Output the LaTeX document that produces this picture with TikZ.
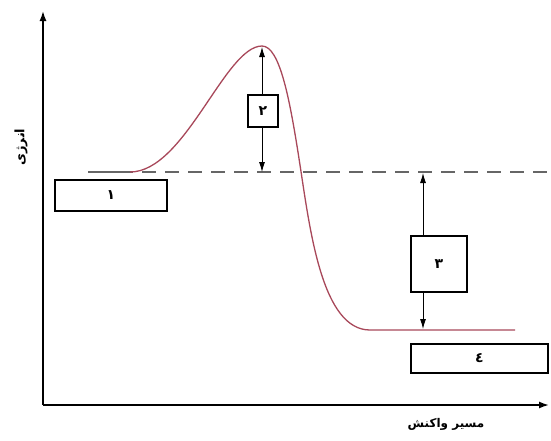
\documentclass[tikz,border=0pt]{standalone}
\usepackage{fontspec}
\newfontfamily\arabicfont[Script=Arabic]{DejaVu Sans}
\TeXXeTstate=1
\usetikzlibrary{arrows.meta}
\definecolor{curvered}{HTML}{A8485A}
\begin{document}
\begin{tikzpicture}[x=1pt,y=-1pt,
  axis/.style={line width=1.6pt,-{Latex[length=10pt,width=7pt]}},
  lbox/.style={draw,line width=1.4pt,fill=white,inner sep=0pt,font=\arabicfont\bfseries\fontsize{14}{14}\selectfont},
  darrow/.style={line width=0.9pt,-{Latex[length=10pt,width=6pt]}},
  dashline/.style={draw=black!60,line width=1.2pt,dash pattern=on 14pt off 9pt}]
\useasboundingbox (0,0) rectangle (551,440);
% axes
\coordinate (o) at (43,405);
\coordinate (ytop) at (43,11);
\coordinate (xend) at (549,405);
\draw[axis] (o) -- (ytop);
\draw[axis] (o) -- (xend);
\node[rotate=90,font=\arabicfont\bfseries\fontsize{13}{13}\selectfont] (ylab) at (21,147) {\beginR انرژی\endR};
\node[font=\arabicfont\bfseries\fontsize{12}{12}\selectfont] (xlab) at (446,424) {\beginR مسیر واکنش\endR};
% reference level: solid start, then dashed
\coordinate (dstart) at (88,172);
\coordinate (dmid) at (133,172);
\coordinate (dend) at (549,172);
\draw[draw=black!60,line width=1.2pt] (dstart) -- (dmid);
\draw[dashline] (dmid) ++(9,0) -- (dend);
% energy curve
\draw[curvered,line width=1.3pt] (130,172)
  .. controls (185,172) and (225,46) .. (262,46)
  .. controls (280,46) and (290,100) .. (300,165)
  .. controls (310,230) and (322,330) .. (370,330)
  -- (515,330);
\coordinate (peak) at (262,47);
\coordinate (lvlA) at (262,172);
\coordinate (lvlB) at (423,173);
\coordinate (prod) at (423,329);
% boxes
\node[lbox,minimum width=112pt,minimum height=31pt] (b1) at (111,195.5) {١};
\node[lbox,minimum width=30pt,minimum height=32pt] (b2) at (263,111) {٢};
\node[lbox,minimum width=56pt,minimum height=56pt] (b3) at (439,264) {٣};
\node[lbox,minimum width=137pt,minimum height=29pt] (b4) at (479.5,358.5) {٤};
% double arrows
\draw[darrow] (b2.north -| peak) -- (peak);
\draw[darrow] (b2.south -| peak) -- (lvlA);
\draw[darrow] (b3.north -| lvlB) -- (lvlB);
\draw[darrow] (b3.south -| prod) -- (prod);
\end{tikzpicture}
\end{document}
